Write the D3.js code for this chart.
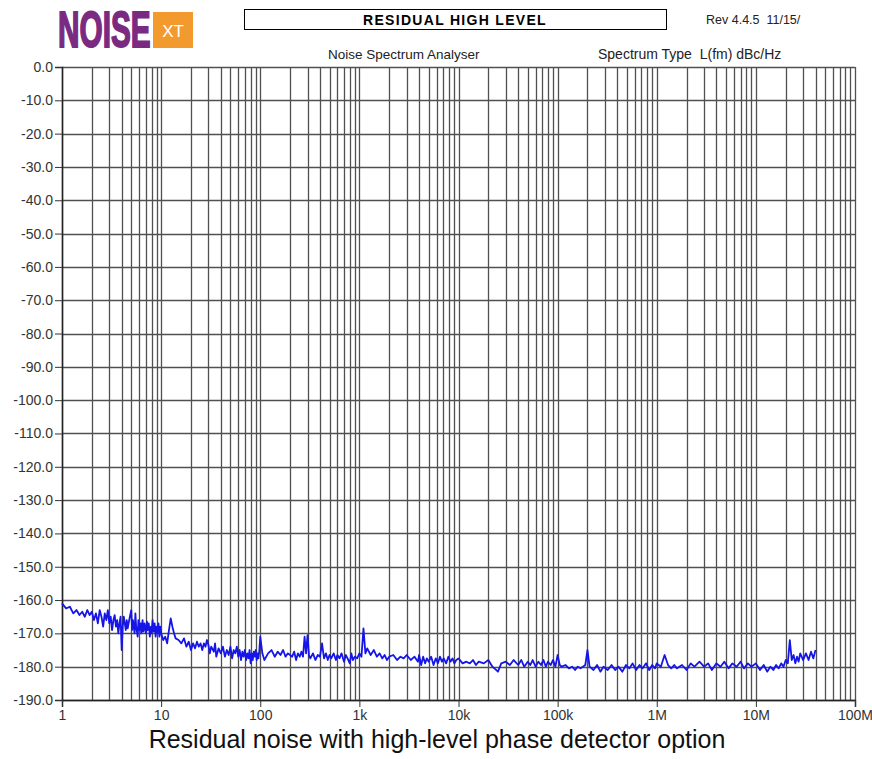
<!DOCTYPE html>
<html>
<head>
<meta charset="utf-8">
<script src="https://cdn.jsdelivr.net/npm/d3@7"></script>
<style>
  body { margin: 0; background: #fff; }
  svg text { font-family: "Liberation Sans", Arial, sans-serif; white-space: pre; }
</style>
</head>
<body>
<div id="chart"></div>
<script>
const freqs = [
  1, 1.1, 1.2, 1.3, 1.4, 1.5, 1.6, 1.7, 1.8, 1.9, 2.0, 2.1, 2.2, 2.3, 2.4, 2.5, 2.6, 2.7, 2.8, 2.9,
  3.0, 3.1, 3.2, 3.3, 3.4, 3.5, 3.6, 3.7, 3.8, 3.9, 4.0, 4.1, 4.2, 4.4, 4.5, 4.6, 4.8, 5.0, 5.1, 5.2,
  5.4, 5.5, 5.6, 5.8, 5.9, 6.0, 6.2, 6.3, 6.5, 6.6, 6.8, 7.0, 7.2, 7.3, 7.5, 7.7, 7.9, 8.0, 8.2, 8.4,
  8.6, 8.8, 9.0, 9.2, 9.4, 9.6, 9.8, 10, 10.5, 11, 11.5, 12, 12.5, 13, 13.5, 14, 15, 16, 17, 18,
  19, 20, 21, 22, 23, 24, 25, 26, 27, 28, 29, 30, 31, 32, 34, 35, 36, 38, 40, 42,
  44, 46, 48, 50, 52, 54, 56, 58, 60, 62, 64, 66, 68, 70, 72, 74, 76, 78, 80, 82,
  84, 86, 88, 90, 92, 94, 96, 98, 100, 105, 110, 120, 130, 140, 150, 160, 170, 180, 190, 200,
  210, 220, 230, 240, 250, 260, 270, 280, 290, 300, 310, 320, 340, 360, 380, 400, 420, 440, 460, 480,
  500, 520, 550, 580, 600, 630, 660, 700, 730, 760, 800, 830, 860, 900, 950, 1000, 1050, 1100, 1150, 1200,
  1300, 1400, 1500, 1600, 1700, 1800, 1900, 2000, 2200, 2400, 2600, 2800, 3000, 3300, 3600, 3900, 4000, 4200, 4400, 4600,
  4800, 5000, 5300, 5600, 5900, 6200, 6500, 6800, 7100, 7500, 7900, 8300, 8700, 9100, 9500, 10000, 11000, 12000, 13000, 14000,
  15000, 16000, 18000, 20000, 22000, 25000, 27000, 30000, 33000, 36000, 40000, 43000, 46000, 50000, 53000, 56000, 60000, 64000, 68000, 72000,
  76000, 80000, 85000, 90000, 95000, 100000, 105000, 110000, 120000, 130000, 140000, 150000, 160000, 170000, 180000, 190000, 200000, 210000, 230000, 250000,
  270000, 290000, 320000, 350000, 380000, 410000, 450000, 490000, 530000, 570000, 620000, 670000, 720000, 780000, 840000, 900000, 960000, 1000000, 1100000, 1200000,
  1300000, 1400000, 1500000, 1600000, 1800000, 2000000, 2200000, 2400000, 2700000, 3000000, 3300000, 3600000, 4000000, 4400000, 4800000, 5300000, 5800000, 6400000, 7000000, 7600000,
  8300000, 9000000, 10000000, 11000000, 12000000, 13000000, 14000000, 15000000, 16000000, 17000000, 18000000, 19000000, 20000000, 21000000, 22000000, 23000000, 24000000, 25000000, 26000000, 27000000,
  28000000, 30000000, 32000000, 34000000, 36000000, 38000000, 40000000
];
const levels = [
  -161, -162.5, -162, -164, -163, -164.5, -163.5, -165, -163, -164.5, -163.5, -166, -164, -167, -163, -165, -168, -164, -166, -163,
  -167, -165, -169, -166, -164.5, -168, -166, -170, -167, -165, -175, -168, -165, -169, -166, -168.5, -165.5, -163, -169, -166,
  -170, -164, -168, -171, -166, -169, -167, -170, -166, -169.5, -167, -170, -166.5, -169, -167, -171, -168, -170, -166, -169.5,
  -167, -171, -168, -170, -167, -171, -168, -170, -172, -171, -173, -169, -165.5, -168, -170, -171.5, -172, -173, -171.5, -174,
  -172.5, -175, -173, -174.5, -172.5, -174, -173, -175, -173, -174, -172, -173.5, -176, -174, -175.5, -173, -177, -174.5, -176, -174,
  -177, -175, -176.5, -174, -177.5, -175, -176, -174, -177, -175, -178, -175.5, -177, -175, -178, -176, -177.5, -175, -179, -176,
  -178, -175.5, -177, -175, -178, -176, -177.5, -175, -171, -176, -178, -176, -175, -177, -175.5, -176.5, -175, -177, -176, -176.5,
  -177, -175.5, -178, -176, -177, -175.5, -177, -171, -176, -170.5, -176.5, -177.5, -176, -178, -176.5, -177, -173, -177.5, -176, -178,
  -176.5, -177.5, -176, -178, -176.5, -177.5, -176, -178.5, -176.5, -177.5, -179, -176, -178, -177, -177.5, -176, -177, -168.5, -176, -174.5,
  -176.5, -175, -177, -176, -177.5, -176.5, -178, -177, -176.5, -178, -177, -177.5, -176.5, -178, -177, -178.5, -176.5, -179.5, -177, -179,
  -177.5, -178.5, -177, -179.5, -177.5, -179, -177, -178.5, -177.5, -179, -177, -178.5, -177.5, -179, -178, -177.5, -179, -178.5, -179, -178,
  -179.5, -178.5, -179, -178, -180, -181.5, -179, -178.5, -179.5, -178, -179.5, -178, -180, -178.5, -179.5, -178, -180, -178.5, -179.5, -178,
  -180, -178.5, -179.5, -178, -180, -176.5, -179.5, -180, -179.5, -180.5, -180, -181, -180, -180.5, -180, -179.5, -175, -180, -181, -179.5,
  -181.5, -180, -181, -179.5, -181, -180, -181.5, -179.5, -180.5, -179, -181, -179.5, -180.5, -179, -181, -179.5, -180.5, -179, -180, -176.5,
  -179.5, -180.5, -179.5, -180.5, -179.5, -181, -179, -180, -178.5, -180, -179, -181, -179, -180, -178.5, -180.5, -179, -180, -178.5, -180.5,
  -179, -180, -179, -181, -179.5, -181.5, -180, -181, -179.5, -180.5, -179, -180, -178, -179, -172, -178, -176.5, -179, -177, -178.5,
  -176, -178, -176, -178, -175.5, -177.5, -175
];

const yTicks = d3.range(0, -191, -10);
const xDecades = [1, 10, 100, 1e3, 1e4, 1e5, 1e6, 1e7, 1e8];
const xDecadeLabels = ["1", "10", "100", "1k", "10k", "100k", "1M", "10M", "100M"];

const chartTitle = "RESIDUAL HIGH LEVEL";
const revText = "Rev 4.4.5  11/15/";
const subtitleLeft = "Noise Spectrum Analyser";
const subtitleRight = "Spectrum Type  L(fm) dBc/Hz";
const caption = "Residual noise with high-level phase detector option";

const W = 872, H = 759;
const margin = { top: 67, right: 17, bottom: 59, left: 62 };
const width = W - margin.left - margin.right;
const height = H - margin.top - margin.bottom;
const narrow = "'Liberation Sans Narrow', 'Liberation Sans', Arial, sans-serif";

const svg = d3.select("#chart").append("svg")
  .attr("width", W)
  .attr("height", H);

// header (logo squeezed horizontally)
svg.append("text")
  .attr("transform", "translate(58,47) scale(0.62,1.05)")
  .style("font-family", narrow)
  .style("font-weight", "bold")
  .style("font-size", "48px")
  .attr("fill", "#7a2a80")
  .attr("stroke", "#7a2a80")
  .attr("stroke-width", 1.8)
  .text("NOISE");
svg.append("rect")
  .attr("x", 153).attr("y", 12).attr("width", 40).attr("height", 36)
  .attr("fill", "#f29a2e");
svg.append("text")
  .attr("x", 173).attr("y", 37)
  .attr("text-anchor", "middle")
  .style("font-size", "17px")
  .attr("fill", "#fff")
  .text("XT");

svg.append("rect")
  .attr("x", 244.5).attr("y", 9.5).attr("width", 422).attr("height", 20)
  .attr("fill", "none").attr("stroke", "#000");
svg.append("text")
  .attr("x", 455).attr("y", 25)
  .attr("text-anchor", "middle")
  .style("font-size", "14px").style("font-weight", "bold")
  .style("letter-spacing", "1.3px")
  .text(chartTitle);
svg.append("text")
  .attr("x", 706).attr("y", 24)
  .style("font-size", "12.5px").attr("fill", "#222")
  .text(revText);
svg.append("text")
  .attr("x", 328).attr("y", 59)
  .style("font-size", "13.5px").attr("fill", "#222")
  .text(subtitleLeft);
svg.append("text")
  .attr("x", 598).attr("y", 59)
  .style("font-size", "14px").attr("fill", "#222")
  .text(subtitleRight);

const g = svg.append("g")
  .attr("transform", "translate(" + margin.left + "," + margin.top + ")");

const x = d3.scaleLog().domain([1, 1e8]).range([0, width]);
const y = d3.scaleLinear().domain([-190, 0]).range([height, 0]);

// grid: 1..9 per decade
const xGrid = [];
xDecades.slice(0, -1).forEach((d) => {
  for (let k = 1; k < 10; k++) xGrid.push(d * k);
});
xGrid.push(1e8);

g.append("g")
  .selectAll("line")
  .data(xGrid)
  .join("line")
  .attr("x1", (d) => Math.round(x(d)) + 0.5)
  .attr("x2", (d) => Math.round(x(d)) + 0.5)
  .attr("y1", 0)
  .attr("y2", height)
  .attr("stroke", "#505050")
  .attr("stroke-width", 1.3);

g.append("g")
  .selectAll("line")
  .data(yTicks)
  .join("line")
  .attr("x1", 0)
  .attr("x2", width)
  .attr("y1", (d) => Math.round(y(d)) + 0.5)
  .attr("y2", (d) => Math.round(y(d)) + 0.5)
  .attr("stroke", "#505050")
  .attr("stroke-width", 1.3);

// Y Axis
const yAxis = d3.axisLeft(y)
  .tickValues(yTicks)
  .tickSize(7)
  .tickPadding(2)
  .tickFormat((d) => d.toFixed(1));
const yG = g.append("g").attr("id", "y-axis").call(yAxis);
yG.select(".domain").attr("stroke", "#222").attr("stroke-width", 1.5);
yG.selectAll(".tick line").attr("stroke", "#333");
yG.selectAll("text")
  .style("font-family", narrow)
  .style("font-size", "14px")
  .attr("fill", "#333");

// X Axis
const xAxis = d3.axisBottom(x)
  .tickValues(xDecades)
  .tickSize(7)
  .tickPadding(3)
  .tickFormat((d, i) => xDecadeLabels[i]);
const xG = g.append("g")
  .attr("id", "x-axis")
  .attr("transform", "translate(0," + height + ")")
  .call(xAxis);
xG.select(".domain").attr("stroke", "#222").attr("stroke-width", 1.5);
xG.selectAll(".tick line").attr("stroke", "#333");
xG.selectAll("text")
  .style("font-family", narrow)
  .style("font-size", "14px")
  .attr("fill", "#333");

// trace
const line = d3.line()
  .x((d) => x(d[0]))
  .y((d) => y(d[1]));
g.append("path")
  .datum(freqs.map((f, i) => [f, levels[i]]))
  .attr("fill", "none")
  .attr("stroke", "#1515e8")
  .attr("stroke-width", 1.8)
  .attr("stroke-linejoin", "round")
  .attr("d", line);

// caption
svg.append("text")
  .attr("x", 437).attr("y", 748)
  .attr("text-anchor", "middle")
  .style("font-size", "25px")
  .attr("fill", "#111")
  .text(caption);
</script>
</body>
</html>
